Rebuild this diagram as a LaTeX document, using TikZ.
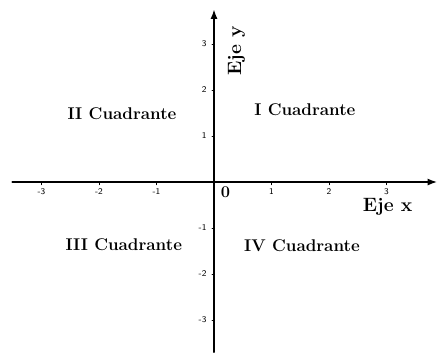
\documentclass[tikz,border=0pt]{standalone}
\usepackage{tikz}
\usetikzlibrary{arrows.meta}

\tikzset{
  axis/.style={line width=1.2pt,-{Latex[length=8pt,width=6pt]}},
  ticklabel/.style={font=\sffamily\fontsize{7.5}{8}\selectfont},
  quadrant/.style={font=\bfseries\fontsize{14.5}{16}\selectfont},
  axislabel/.style={font=\bfseries\fontsize{16.5}{18}\selectfont}
}

\begin{document}
\begin{tikzpicture}[x=1.725cm,y=1.38cm,line cap=round,line join=round]
  % Frame of the picture.
  \useasboundingbox (-3.722,-3.696) rectangle (3.878,3.957);

  % Axes.
  \coordinate (xstart) at (-3.51,0);
  \coordinate (xend) at (3.878,0);
  \coordinate (ystart) at (0,-3.70);
  \coordinate (yend) at (0,3.75);
  \draw[axis] (xstart) -- (xend);
  \draw[axis] (ystart) -- (yend);

  % Ticks and their numbers.
  \foreach \k in {-3,-2,-1,1,2,3} {
    \draw[line width=.6pt] (\k,0) -- (\k,-0.06);
    \node[ticklabel] (xt\k) at (\k,-0.2) {\k};
    \draw[line width=.6pt] (0,\k) -- (-0.035,\k);
    \node[ticklabel,anchor=east] (yt\k) at (-0.06,\k) {\k};
  }

  % Origin and axis names.
  \node[font=\bfseries\fontsize{14}{16}\selectfont] (origin) at (0.2,-0.22) {0};
  \node[axislabel] (ejex) at (3.02,-0.53) {Eje x};
  \node[axislabel,rotate=90] (ejey) at (0.39,2.85) {Eje y};

  % Quadrant names.
  \node[quadrant] (q1) at (1.58,1.57) {I Cuadrante};
  \node[quadrant] (q2) at (-1.60,1.48) {II Cuadrante};
  \node[quadrant] (q3) at (-1.57,-1.37) {III Cuadrante};
  \node[quadrant] (q4) at (1.53,-1.39) {IV Cuadrante};
\end{tikzpicture}
\end{document}
